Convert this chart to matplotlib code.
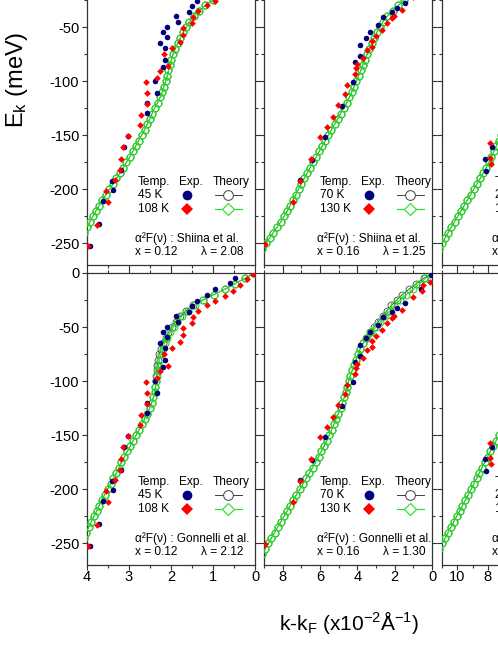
import matplotlib.pyplot as plt
from matplotlib.ticker import MultipleLocator, FixedLocator

plt.rcParams['font.family'] = ['Liberation Sans', 'DejaVu Sans']
plt.rcParams['mathtext.fontset'] = 'custom'
plt.rcParams['mathtext.rm'] = 'Liberation Sans'
plt.rcParams['mathtext.it'] = 'Liberation Sans:italic'
plt.rcParams['axes.unicode_minus'] = False

# ---- data -------------------------------------------------------------
# theory energies (meV), shared by all calculated curves
theory_E = [0, -5, -10, -15, -20, -25, -30, -35, -40, -45, -50, -55, -60, -65,
            -70, -75, -80, -85, -90, -95, -100, -105, -110, -115, -120, -125,
            -130, -135, -140, -145, -150, -155, -160, -165, -170, -175, -180,
            -185, -190, -195, -200, -205, -210, -215, -220, -225, -230, -235,
            -240, -245, -250, -255, -260, -265, -270]

# x = 0.12, Shiina alpha2F
k_shiina_012 = [0.0, 0.2, 0.4, 0.6, 0.8, 1.0, 1.18, 1.33, 1.46, 1.56, 1.64, 1.71,
                1.78, 1.84, 1.90, 1.95, 1.99, 2.03, 2.06, 2.09, 2.13, 2.17, 2.21,
                2.26, 2.32, 2.39, 2.45, 2.51, 2.57, 2.63, 2.70, 2.77, 2.84, 2.91,
                2.98, 3.06, 3.14, 3.22, 3.30, 3.38, 3.47, 3.55, 3.64, 3.71, 3.79,
                3.86, 3.93, 4.00, 4.07, 4.14, 4.21, 4.28, 4.35, 4.42, 4.49]
# x = 0.16, Shiina alpha2F
k_shiina_016 = [0.0, 0.3, 0.6, 0.9, 1.2, 1.5, 1.8, 2.1, 2.4, 2.62, 2.8, 2.96, 3.1,
                3.23, 3.35, 3.47, 3.59, 3.7, 3.81, 3.93, 4.05, 4.17, 4.3, 4.43,
                4.57, 4.73, 4.9, 5.06, 5.22, 5.39, 5.56, 5.72, 5.88, 6.04, 6.2,
                6.37, 6.53, 6.69, 6.85, 7.0, 7.15, 7.3, 7.45, 7.6, 7.76, 7.93,
                8.1, 8.3, 8.5, 8.7, 8.9, 9.1, 9.3, 9.5, 9.7]
# third doping, Shiina alpha2F
k_shiina_3 = [0.0, 0.35, 0.7, 1.05, 1.4, 1.75, 2.1, 2.4, 2.7, 3.0, 3.25, 3.5,
              3.75, 4.0, 4.2, 4.4, 4.6, 4.8, 5.0, 5.2, 5.4, 5.6, 5.8, 6.0, 6.2,
              6.38, 6.55, 6.7, 6.85, 7.0, 7.15, 7.3, 7.45, 7.6, 7.76, 7.93, 8.11,
              8.3, 8.5, 8.71, 8.92, 9.13, 9.34, 9.55, 9.76, 9.97, 10.18, 10.39,
              10.6, 10.8, 11.0, 11.2, 11.4, 11.6, 11.8]

# x = 0.12, Gonnelli alpha2F (low T / high T)
k_gonn_012_low = [0.0, 0.25, 0.48, 0.72, 0.98, 1.25, 1.47, 1.64, 1.78, 1.89,
                  1.98, 2.06, 2.13, 2.19, 2.24, 2.28, 2.31, 2.33, 2.34, 2.35,
                  2.36, 2.37, 2.39, 2.42, 2.46, 2.51, 2.57, 2.63, 2.69, 2.76,
                  2.83, 2.90, 2.97, 3.04, 3.11, 3.18, 3.24, 3.30, 3.37, 3.44,
                  3.51, 3.58, 3.65, 3.71, 3.77, 3.84, 3.90, 3.96, 4.02, 4.08,
                  4.14, 4.20, 4.26, 4.32, 4.38]
k_gonn_012_high = [0.0, 0.25, 0.48, 0.72, 0.98, 1.23, 1.44, 1.60, 1.74, 1.85,
                   1.94, 2.02, 2.09, 2.15, 2.20, 2.24, 2.27, 2.30, 2.32, 2.34,
                   2.36, 2.37, 2.39, 2.42, 2.46, 2.51, 2.57, 2.63, 2.69, 2.76,
                   2.83, 2.90, 2.97, 3.04, 3.11, 3.18, 3.24, 3.30, 3.37, 3.44,
                   3.51, 3.58, 3.65, 3.71, 3.77, 3.84, 3.90, 3.96, 4.02, 4.08,
                   4.14, 4.20, 4.26, 4.32, 4.38]
# x = 0.16, Gonnelli alpha2F
k_gonn_016_low = [0.0, 0.45, 0.85, 1.25, 1.6, 1.9, 2.17, 2.42, 2.65, 2.88, 3.1,
                  3.32, 3.52, 3.7, 3.85, 3.96, 4.06, 4.16, 4.27, 4.38, 4.47,
                  4.54, 4.61, 4.70, 4.80, 4.90, 5.02, 5.14, 5.26, 5.38, 5.51,
                  5.64, 5.78, 5.93, 6.08, 6.24, 6.40, 6.57, 6.74, 6.91, 7.08,
                  7.26, 7.44, 7.60, 7.76, 7.93, 8.10, 8.27, 8.43, 8.60, 8.77,
                  8.94, 9.11, 9.28, 9.45]
k_gonn_016_high = [0.0, 0.35, 0.68, 1.02, 1.38, 1.72, 2.02, 2.27, 2.52, 2.76,
                   3.0, 3.25, 3.48, 3.68, 3.84, 3.96, 4.06, 4.16, 4.27, 4.38,
                   4.47, 4.54, 4.61, 4.70, 4.80, 4.90, 5.02, 5.14, 5.26, 5.38,
                   5.51, 5.64, 5.78, 5.93, 6.08, 6.24, 6.40, 6.57, 6.74, 6.91,
                   7.08, 7.26, 7.44, 7.60, 7.76, 7.93, 8.10, 8.27, 8.43, 8.60,
                   8.77, 8.94, 9.11, 9.28, 9.45]
# third doping, Gonnelli alpha2F
k_gonn_3 = [0.0, 0.35, 0.7, 1.05, 1.4, 1.75, 2.1, 2.4, 2.7, 3.0, 3.25, 3.5, 3.75,
            4.0, 4.2, 4.4, 4.6, 4.8, 5.0, 5.2, 5.4, 5.6, 5.8, 6.0, 6.2, 6.38,
            6.55, 6.7, 6.85, 7.05, 7.25, 7.45, 7.65, 7.84, 8.02, 8.2, 8.38, 8.56,
            8.74, 8.92, 9.1, 9.28, 9.47, 9.66, 9.85, 10.04, 10.23, 10.42, 10.61,
            10.8, 10.99, 11.18, 11.37, 11.56, 11.75]

# ARPES dispersion, x = 0.12 (45 K and 108 K)
exp012_low_k = [0.05, 0.48, 0.60, 0.95, 1.15, 1.37, 1.51, 1.57, 1.88, 1.84, 2.10,
                2.20, 2.10, 2.26, 2.14, 2.14, 2.20, 2.38, 2.34, 2.58, 2.58, 3.02,
                3.12, 3.20, 3.40, 3.37, 3.61, 3.71, 3.93]
exp012_low_E = [-1, -5, -9, -15, -20, -25.5, -30.5, -36, -40, -45, -50, -55, -59,
                -65, -69, -80, -87, -100, -111, -120, -129, -151, -161, -182,
                -192, -201, -211, -232, -252]
exp012_high_k = [0.05, 0.20, 0.36, 0.52, 0.71, 0.95, 1.15, 1.35, 1.48, 1.51, 1.72,
                 1.72, 1.79, 1.98, 2.17, 2.08, 2.26, 2.34, 2.60, 2.58, 2.58, 2.72,
                 2.75, 3.03, 3.15, 3.19, 3.21, 3.33, 3.55, 3.49, 3.77, 3.98]
exp012_high_E = [-1, -6, -11, -16.5, -21.3, -25.7, -29.5, -35, -40.4, -46, -51,
                 -57, -64, -69.6, -75, -86, -91, -97.4, -101, -111, -121, -131,
                 -141, -151, -161, -172, -182, -191, -202, -212, -233, -252]

# ARPES dispersion, x = 0.16 (70 K and 130 K)
exp016_low_k = [0.05, 0.60, 1.45, 1.89, 2.16, 2.61, 2.90, 3.32, 3.55, 3.86, 3.86,
                4.13, 4.25, 4.80, 5.73, 6.45, 7.07]
exp016_low_E = [-2, -15, -28, -32, -36, -41, -48, -55, -60, -67, -77, -82, -101,
                -123, -152, -173, -191]
exp016_high_k = [0.11, 0.46, 0.55, 1.02, 1.60, 2.05, 2.16, 2.40, 2.67, 2.98, 3.23,
                 3.22, 3.50, 3.68, 4.03, 4.07, 4.13, 4.57, 4.66, 5.02, 5.32, 5.61,
                 6.00, 6.48, 7.07, 7.43, 8.95]
exp016_high_E = [-8, -11, -17, -22.6, -34, -40, -42, -46.5, -52.5, -58.5, -63,
                 -68.7, -71.2, -79, -84, -88, -93, -104, -112, -122.5, -133, -142,
                 -152, -172, -192, -212, -251]

# ARPES dispersion, third doping
exp3_low_k = [7.75, 8.19, 8.15]
exp3_low_E = [-161, -172, -183]
exp3_high_k = [7.86, 7.86, 7.78]
exp3_high_E = [-157, -171, -177]

# panel texts
temps = [('45 K', '108 K'), ('70 K', '130 K'), ('20 K', '140 K')]
dopings = ['x = 0.12', 'x = 0.16', 'x = 0.20']
refs = ['Shiina et al.', 'Gonnelli et al.']
lambdas = [['2.08', '1.25', '0.95'], ['2.12', '1.30', '0.98']]
x_max = [4, 9, 11]
e_ticks = [[-250, -200, -150, -100, -50], [-250, -200, -150, -100, -50, 0]]

theory = [[(k_shiina_012, k_shiina_012), (k_shiina_016, k_shiina_016), (k_shiina_3, k_shiina_3)],
          [(k_gonn_012_low, k_gonn_012_high), (k_gonn_016_low, k_gonn_016_high), (k_gonn_3, k_gonn_3)]]
exp = [(exp012_low_k, exp012_low_E, exp012_high_k, exp012_high_E),
       (exp016_low_k, exp016_low_E, exp016_high_k, exp016_high_E),
       (exp3_low_k, exp3_low_E, exp3_high_k, exp3_high_E)]

# ---- styles -----------------------------------------------------------
BLUE = '#000080'
RED = '#ff0000'
GREEN = '#22e022'
GREY = '#404040'
low_exp = dict(marker='o', ls='none', color=BLUE, ms=4.0, mew=0)
high_exp = dict(marker='D', ls='none', color=RED, ms=3.4, mew=0)
low_th = dict(marker='o', ls='-', color=GREY, lw=0.6, ms=5.0, mfc='none', mec=GREY, mew=0.6)
high_th = dict(marker='o', ls='-', color=GREEN, lw=0.7, ms=5.0, mfc='none', mec=GREEN, mew=0.8)

W, H = 498, 645
col_left = [87, 264, 442]
row_top = [-27, 273]
pw, ph = 168, 292
key_dx = [0.0, 0.03, 0.012]
fs = 8.6

fig = plt.figure(figsize=(W / 100, H / 100), dpi=100)

for r in range(2):
    for c in range(3):
        ax = fig.add_axes([col_left[c] / W, (H - row_top[r] - ph) / H, pw / W, ph / H])
        tk_low, tk_high = theory[r][c]
        ax.plot(tk_low, theory_E, zorder=2, **low_th)
        ax.plot(tk_high, theory_E, zorder=3, **high_th)
        lk, lE, hk, hE = exp[c]
        ax.plot(lk, lE, zorder=4, **low_exp)
        ax.plot(hk, hE, zorder=5, **high_exp)

        ax.set_xlim(x_max[c], 0)
        ax.set_ylim(-270, 0)
        ax.yaxis.set_major_locator(FixedLocator(e_ticks[r]))
        ax.yaxis.set_minor_locator(MultipleLocator(25))
        if c == 0:
            ax.xaxis.set_major_locator(MultipleLocator(1))
            ax.xaxis.set_minor_locator(MultipleLocator(0.5))
        else:
            ax.xaxis.set_major_locator(MultipleLocator(2))
            ax.xaxis.set_minor_locator(MultipleLocator(1))
        ax.tick_params(which='both', direction='out', top=True, right=True,
                       width=0.8, color='#333333', labelsize=10.5)
        ax.tick_params(which='major', length=3.5)
        ax.tick_params(which='minor', length=2.2)
        ax.tick_params(axis='x', pad=0)
        ax.tick_params(axis='y', pad=2)
        ax.tick_params(labelleft=(c == 0), labelbottom=(r == 1))
        for s in ax.spines.values():
            s.set_linewidth(0.9)
            s.set_color('#333333')

        # key block
        d = key_dx[c]
        tr = ax.transAxes
        ax.text(0.304 + d, 0.285, 'Temp.', transform=tr, fontsize=fs, va='center')
        ax.text(0.548 + d, 0.285, 'Exp.', transform=tr, fontsize=fs, va='center')
        ax.text(0.750 + d, 0.285, 'Theory', transform=tr, fontsize=fs, va='center')
        ax.text(0.304 + d, 0.240, temps[c][0], transform=tr, fontsize=fs, va='center')
        ax.text(0.304 + d, 0.191, temps[c][1], transform=tr, fontsize=fs, va='center')
        ax.plot([0.597 + d], [0.240], transform=tr, clip_on=False, marker='o',
                color=BLUE, ms=7, mew=0, ls='none')
        ax.plot([0.597 + d], [0.191], transform=tr, clip_on=False, marker='D',
                color=RED, ms=6, mew=0, ls='none')
        ax.plot([0.762 + d, 0.921 + d], [0.240, 0.240], transform=tr, clip_on=False,
                color=GREY, lw=0.7)
        ax.plot([0.841 + d], [0.240], transform=tr, clip_on=False, marker='o',
                ms=7, mfc='white', mec=GREY, mew=0.7, ls='none')
        ax.plot([0.762 + d, 0.921 + d], [0.191, 0.191], transform=tr, clip_on=False,
                color=GREEN, lw=0.8)
        ax.plot([0.841 + d], [0.191], transform=tr, clip_on=False, marker='D',
                ms=6, mfc='white', mec=GREEN, mew=0.8, ls='none')
        ax.text(0.286 + d, 0.089, 'α²F(ν) : ' + refs[r], transform=tr,
                fontsize=fs, va='center')
        ax.text(0.286 + d, 0.046, dopings[c], transform=tr, fontsize=fs, va='center')
        ax.text(0.929 + d, 0.046, 'λ = ' + lambdas[r][c], transform=tr,
                fontsize=fs, va='center', ha='right')

fig.text(17 / W, 1 - 80 / H, r'E$_\mathregular{k}$ (meV)', rotation=90,
         fontsize=17, ha='center', va='center')
fig.text(349 / W, 1 - 623 / H,
         r'k-k$_\mathregular{F}$ (x10$^\mathregular{-2}$Å$^\mathregular{-1}$)',
         fontsize=15, ha='center', va='center')

plt.savefig('out.png', dpi=100)
